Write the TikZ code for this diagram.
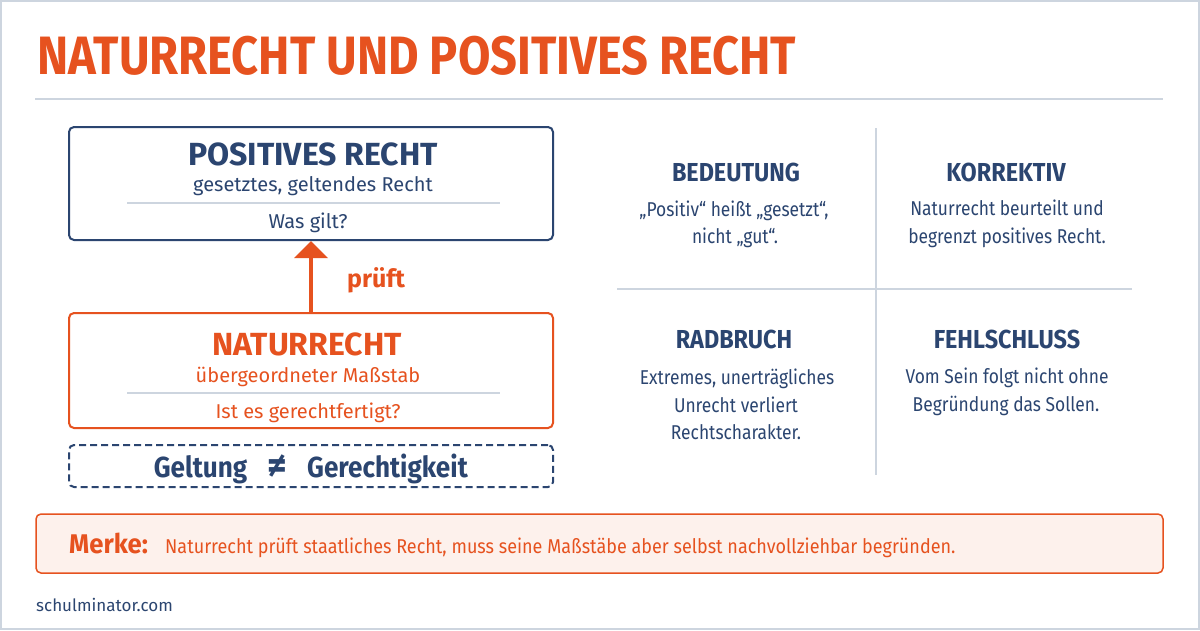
\documentclass[tikz,border=0pt]{standalone}
\usepackage{fontspec}
\setmainfont{Fira Sans}
\newfontfamily\fA{Fira Sans}[FakeStretch=0.87]
\newfontfamily\fC{Fira Sans}[FakeStretch=0.9]
\newfontfamily\fD{Fira Sans}[FakeStretch=0.95]
\usetikzlibrary{arrows.meta}
\definecolor{navy}{HTML}{2B4570}
\definecolor{org}{HTML}{E6521F}
\definecolor{rulec}{HTML}{CDD5DF}
\definecolor{merkebg}{HTML}{FDF1EC}
\tikzset{
  txt/.style={inner sep=0pt, anchor=base},
  boxhead/.style={txt, font=\bfseries\fontsize{32}{32}\selectfont},
  boxsub/.style={txt, font=\fontsize{20}{20}\selectfont},
  cellhead/.style={txt, text=navy, font=\fC\bfseries\fontsize{26}{26}\selectfont},
  cellbody/.style={txt, text=navy, font=\fA\fontsize{20}{20}\selectfont},
  neqtxt/.style={txt, text=navy, font=\fC\bfseries\fontsize{29}{29}\selectfont},
  sep/.style={draw=rulec, line width=1.2pt},
  gridline/.style={draw=rulec, line width=1.5pt},
  mainbox/.style={line width=2pt, rounded corners=5pt, minimum width=484pt, inner sep=0pt},
}
\begin{document}
\begin{tikzpicture}[x=1pt,y=-1pt]
\useasboundingbox (0,0) rectangle (1200,630);
\fill[white] (0,0) rectangle (1200,630);
\draw[rulec, line width=2pt] (1,1) rectangle (1199,629);

% title
\node[inner sep=0pt, anchor=base west, text=org, font=\fA\bfseries\fontsize{54}{54}\selectfont] (title) at (37,74) {NATURRECHT UND POSITIVES RECHT};
\coordinate (r1) at (35,99);
\coordinate (r2) at (1163,99);
\draw[rulec, line width=1.5pt] (r1) -- (r2);

% positive law box
\node[mainbox, draw=navy, minimum height=113pt] (posbox) at (311,183.5) {};
\node[boxhead, text=navy] (posh) at (313,165) {POSITIVES RECHT};
\node[boxsub, text=navy] (poss) at (313,191) {gesetztes, geltendes Recht};
\coordinate (ps1) at (127,203);
\coordinate (ps2) at (500,203);
\draw[sep] (ps1) -- (ps2);
\node[boxsub, text=navy] (posq) at (308,228) {Was gilt?};

% natural law box
\node[mainbox, draw=org, minimum height=115pt] (natbox) at (311,370.5) {};
\node[boxhead, text=org] (nath) at (307,355) {NATURRECHT};
\node[boxsub, text=org] (nats) at (308,382) {übergeordneter Maßstab};
\coordinate (ns1) at (127,393);
\coordinate (ns2) at (500,393);
\draw[sep] (ns1) -- (ns2);
\node[boxsub, text=org] (natq) at (308,418) {Ist es gerechtfertigt?};

% arrow
\draw[org, line width=4pt, -{Triangle[width=33pt,length=17pt]}] (natbox.north) -- (posbox.south);
\node[txt, text=org, font=\bfseries\fontsize{25}{25}\selectfont] (pr) at (376,287) {prüft};

% dashed box
\node[mainbox, draw=navy, dash pattern=on 7pt off 4pt, minimum height=42pt] (dbox) at (311,466) {};
\node[neqtxt] (gel) at (200.5,477) {Geltung};
\node[txt, text=navy, font=\bfseries\fontsize{38}{38}\selectfont] (neq) at (277,478) {≠};
\node[neqtxt] (ger) at (387.5,477) {Gerechtigkeit};

% grid
\coordinate (v1) at (876,128);
\coordinate (v2) at (876,475);
\coordinate (h1) at (617,289);
\coordinate (h2) at (1132,289);
\draw[gridline] (v1) -- (v2);
\draw[gridline] (h1) -- (h2);

\node[cellhead] (c1h) at (736,181) {BEDEUTUNG};
\node[cellbody] (c1a) at (734,216) {„Positiv“ heißt „gesetzt“,};
\node[cellbody] (c1b) at (735,243) {nicht „gut“.};

\node[cellhead] (c2h) at (1006,181) {KORREKTIV};
\node[cellbody] (c2a) at (1007,215) {Naturrecht beurteilt und};
\node[cellbody] (c2b) at (1007,243) {begrenzt positives Recht.};

\node[cellhead] (c3h) at (734,348) {RADBRUCH};
\node[cellbody] (c3a) at (737,384) {Extremes, unerträgliches};
\node[cellbody] (c3b) at (736,412) {Unrecht verliert};
\node[cellbody] (c3c) at (736,439) {Rechtscharakter.};

\node[cellhead] (c4h) at (1007,348) {FEHLSCHLUSS};
\node[cellbody] (c4a) at (1007,383) {Vom Sein folgt nicht ohne};
\node[cellbody] (c4b) at (1006,411) {Begründung das Sollen.};

% Merke box
\node[draw=org, fill=merkebg, line width=1.5pt, rounded corners=5pt, minimum width=1127pt, minimum height=59pt, inner sep=0pt] (merke) at (599.5,543.5) {};
\node[inner sep=0pt, anchor=base west, text=org, font=\fD\bfseries\fontsize{27}{27}\selectfont] (mk) at (69,553) {Merke:};
\node[inner sep=0pt, anchor=base west, text=org, font=\fC\fontsize{20}{20}\selectfont] (mt) at (165,553) {Naturrecht prüft staatliches Recht, muss seine Maßstäbe aber selbst nachvollziehbar begründen.};

\node[inner sep=0pt, anchor=base west, text=navy, font=\fontsize{17}{17}\selectfont] (site) at (36,611) {schulminator.com};
\end{tikzpicture}
\end{document}
